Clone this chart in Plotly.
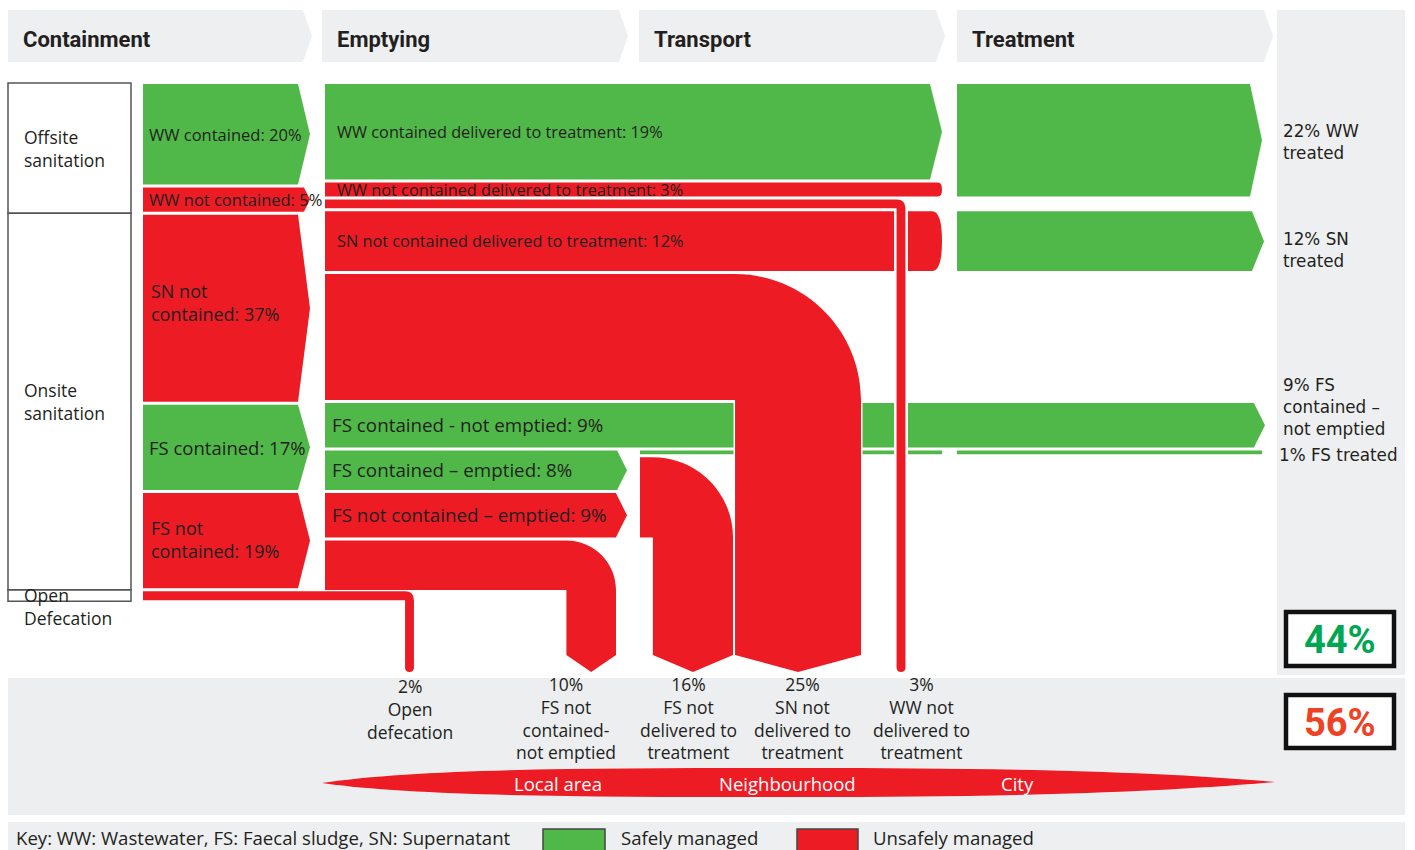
import plotly.graph_objects as go

# ---------------- data ----------------
stages = ["Containment", "Emptying", "Transport", "Treatment"]
system_labels = ["Offsite<br>sanitation", "Onsite<br>sanitation", "Open<br>Defecation"]

containment_labels = ["WW contained: 20%", "WW not contained: 5%", "SN not<br>contained: 37%",
                      "FS contained: 17%", "FS not<br>contained: 19%", ""]
containment_values = [20, 5, 37, 17, 19, 2]
containment_safe = [True, False, False, True, False, False]

emptying_labels = ["WW contained delivered to treatment", "WW not contained delivered to treatment",
                   "WW not delivered to treatment", "SN not contained delivered to treatment",
                   "SN not delivered to treatment", "FS contained - not emptied",
                   "FS contained \u2013 emptied", "FS not contained \u2013 emptied",
                   "FS not contained- not emptied", "Open defecation"]
emptying_values = [19, 3, 2, 12, 25, 9, 8, 9, 10, 2]

treated_values = [22, 12, 9, 1]          # WW treated, SN treated, FS contained-not emptied, FS treated
treated_text = ["{}% WW<br>treated", "{}% SN<br>treated",
                "{}% FS<br>contained \u2013<br>not emptied", "{}% FS treated"]

unsafe_values = [2, 10, 16, 25, 3]
unsafe_text = ["Open<br>defecation", "FS not<br>contained-<br>not emptied",
               "FS not<br>delivered to<br>treatment", "SN not<br>delivered to<br>treatment",
               "WW not<br>delivered to<br>treatment"]

scale_labels = ["Local area", "Neighbourhood", "City"]
key_text = "Key: WW: Wastewater, FS: Faecal sludge, SN: Supernatant"
legend_labels = ["Safely managed", "Unsafely managed"]

safe_total = sum(treated_values)
unsafe_total = sum(unsafe_values)
fs_emptied_treated = treated_values[3]

# ---------------- layout constants ----------------
W, H = 1415, 850
Y0, S, GAP, TRIM = 84, 5.09, 1.7, 1.3
GREEN, RED = "#50b848", "#ed1c24"
TXT = "#231f20"
LIGHT = "#eeeff1"
FONT = "Open Sans"

X_C0, X_CTIP = 143, 310
X_E0, X_ETIP = 325, 942
X_T0, X_TTIP = 957, 1264
X_FSTIP, X_RECV = 627, 640
COL_SN, COL_FSND, COL_FSNE = 861, 733, 616
PIPE_OD, PIPE_WW = 409.5, 901
BOT_SIDE, BOT_TIP = 655, 672
K = 0.5523


def stack(values):
    tops, bots, cum = [], [], 0
    for k, v in enumerate(values):
        t = Y0 + S * cum + GAP * k
        tops.append(t)
        bots.append(t + S * v - TRIM)
        cum += v
    return tops, bots


ct, cb = stack(containment_values)
et, eb = stack(emptying_values)

shapes = []
annotations = []


def add_path(d, fill, lw=0, lc=None):
    shapes.append(dict(type="path", path=d, xref="x", yref="y", fillcolor=fill,
                       line=dict(width=lw, color=lc or fill), layer="above"))


def add_rect(x0, y0, x1, y1, fill, lw=0, lc=None):
    shapes.append(dict(type="rect", x0=x0, y0=y0, x1=x1, y1=y1, xref="x", yref="y",
                       fillcolor=fill, line=dict(width=lw, color=lc or fill), layer="above"))


def chevron(x0, tip, t, b, ind=None, rounded=False):
    h = b - t
    ind = min(12, h * 0.25) if ind is None else ind
    m = (t + b) / 2
    if rounded:
        return (f"M{x0:.2f},{t:.2f} L{tip-ind:.2f},{t:.2f} Q{tip:.2f},{t:.2f} {tip:.2f},{m:.2f} "
                f"Q{tip:.2f},{b:.2f} {tip-ind:.2f},{b:.2f} L{x0:.2f},{b:.2f} Z")
    return (f"M{x0:.2f},{t:.2f} L{tip-ind:.2f},{t:.2f} L{tip:.2f},{m:.2f} "
            f"L{tip-ind:.2f},{b:.2f} L{x0:.2f},{b:.2f} Z")


def bend(x0, t, b, cr, w):
    cl = cr - w
    r = w
    return (f"M{x0:.2f},{t:.2f} L{cl:.2f},{t:.2f} C{cl+K*r:.2f},{t:.2f} {cr:.2f},{t+r-K*r:.2f} {cr:.2f},{t+r:.2f} "
            f"L{cr:.2f},{BOT_SIDE} L{(cl+cr)/2:.2f},{BOT_TIP} L{cl:.2f},{BOT_SIDE} "
            f"L{cl:.2f},{b:.2f} L{x0:.2f},{b:.2f} Z")


def pipe(x0, t, b, cx, end):
    w = b - t
    cl, cr = cx - w / 2, cx + w / 2
    return (f"M{x0:.2f},{t:.2f} L{cl:.2f},{t:.2f} Q{cr:.2f},{t:.2f} {cr:.2f},{t+w:.2f} "
            f"L{cr:.2f},{end-w/2:.2f} Q{cr:.2f},{end:.2f} {cx:.2f},{end:.2f} "
            f"Q{cl:.2f},{end:.2f} {cl:.2f},{end-w/2:.2f} L{cl:.2f},{b:.2f} L{x0:.2f},{b:.2f} Z")


def txt(x, y, s, size=15, color=TXT, family=FONT, anchor="left", bold=False, align=None):
    annotations.append(dict(x=x, y=y, xref="x", yref="y", text=s, showarrow=False,
                            xanchor=anchor, yanchor="middle", align=align or anchor,
                            font=dict(size=size, color=color, family=family,
                                      weight="bold" if bold else "normal")))


def width(v):
    return S * v - TRIM


# ---------------- backgrounds ----------------
add_rect(1277, 10, 1405, 675, LIGHT)
add_rect(8, 678, 1405, 815, "#eceef0")
add_rect(8, 822, 1405, 852, LIGHT)
strip_x = [(8, 312), (322, 628), (639, 945), (957, 1273)]
for (a, b_), name in zip(strip_x, stages):
    add_path(chevron(a, b_, 10, 62, ind=9), LIGHT)
    txt(a + 13, 39, name, size=22, family="Roboto", bold=True)

# ---------------- system boxes ----------------
box_edges = [ct[0] - 1, (cb[1] + ct[2]) / 2, (cb[4] + ct[5]) / 2, cb[5] + 1]
for i, lab in enumerate(system_labels):
    y0, y1 = box_edges[i], box_edges[i + 1]
    add_rect(8, y0, 131, y1, "rgba(0,0,0,0)", lw=1.5, lc="#555555")
    mid = (y0 + y1) / 2 if i < 2 else y0 + 17
    txt(22, mid, lab, size=17.5)

# ---------------- containment ----------------
for i, (v, safe, lab) in enumerate(zip(containment_values, containment_safe, containment_labels)):
    if i == 5:
        continue
    add_path(chevron(X_C0, X_CTIP, ct[i], cb[i]), GREEN if safe else RED)
    m = (ct[i] + cb[i]) / 2
    if i in (0, 1):
        txt(147, m, lab, size=16.5)
    elif i == 3:
        txt(147, m, lab, size=18.5)
    else:
        txt(149, m - (6 if i == 2 else 1), lab, size=18)

# ---------------- treatment bands ----------------
add_path(chevron(X_T0, X_TTIP - 2, et[0], eb[1]), GREEN)
add_path(chevron(X_T0, X_TTIP, et[3], eb[3]), GREEN)

# ---------------- emptying / transport straight bands ----------------
add_path(chevron(X_E0, X_ETIP, et[0], eb[0]), GREEN)
add_path(chevron(X_E0, X_ETIP, et[1], eb[1], ind=4, rounded=True), RED)
add_path(chevron(X_E0, X_ETIP, et[3], eb[3], ind=10, rounded=True), RED)
add_path(chevron(X_E0, X_TTIP + 1, et[5], eb[5]), GREEN)
fs_t_top = et[6]
fs_t_bot = et[6] + width(fs_emptied_treated)
add_rect(X_RECV, fs_t_top, X_ETIP, fs_t_bot, GREEN)
add_rect(X_T0, fs_t_top, X_TTIP - 2, fs_t_bot, GREEN)
add_path(chevron(X_E0, X_FSTIP, et[6], eb[6]), GREEN)
add_path(chevron(X_E0, X_FSTIP, et[7], eb[7]), RED)

# ---------------- bends into "not delivered" columns ----------------
recv_top = fs_t_top + S * fs_emptied_treated + GAP
recv_bot = eb[7]
bends = [
    (X_E0, et[4], eb[4], COL_SN, width(unsafe_values[3])),
    (X_RECV, recv_top, recv_bot, COL_FSND, width(unsafe_values[2])),
    (X_E0, et[8], eb[8], COL_FSNE, width(unsafe_values[1])),
]
for x0, t, b, cr, w in bends:
    d = bend(x0, t, b, cr, w)
    add_path(d, "white", lw=3, lc="white")
    add_path(d, RED)

# open defecation pipe
add_path(pipe(X_C0, ct[5], cb[5], PIPE_OD, BOT_TIP), RED)
# wastewater not delivered pipe
d = pipe(X_E0, et[2], eb[2], PIPE_WW, BOT_TIP)
add_path(d, "white", lw=5, lc="white")
add_path(d, RED)

# ---------------- emptying labels ----------------
for i in [0, 1, 3]:
    txt(335, (et[i] + eb[i]) / 2 + (1 if i == 1 else 0),
        f"{emptying_labels[i]}: {emptying_values[i]}%", size=16.3)
for i in [5, 6, 7]:
    txt(330, (et[i] + eb[i]) / 2, f"{emptying_labels[i]}: {emptying_values[i]}%", size=18.8)

# ---------------- right-hand labels ----------------
right_y = [142, 249.5, 407, 455]
for v, s, y in zip(treated_values, treated_text, right_y):
    txt(1281 if "<br>" in s else 1277, y, s.format(v), size=16.8, family="DejaVu Sans")

# ---------------- bottom labels ----------------
unsafe_x = [410, 566, 688, 802, 921]
for x, v, s in zip(unsafe_x, unsafe_values, unsafe_text):
    lines = s.count("<br>") + 2
    yc = 690 + 18.5 * (lines - 1) / 2
    txt(x, yc, f"{v}%<br>{s}", size=17.5, anchor="center")

# ---------------- totals ----------------
for y0, y1, val, col in [(612, 666, safe_total, "#00a651"), (695, 748, unsafe_total, "#ef4123")]:
    add_rect(1286, y0, 1394, y1, "white", lw=4.5, lc="#111111")
    txt(1340, (y0 + y1) / 2 + 1, f"{val}%", size=38, color=col, family="Roboto", anchor="center", bold=True)

# ---------------- scale lens ----------------
lens = ("M322,783 C420,768 600,768 800,768 C1000,768 1150,771 1275,782 "
        "C1150,793 1000,797 800,797 C600,797 420,797 322,783 Z")
add_path(lens, RED)
for x, s in zip([558, 787, 1017], scale_labels):
    txt(x, 783, s, size=18.5, color="white", anchor="center")

# ---------------- key ----------------
txt(14, 837, key_text, size=18.6)
add_rect(543, 829, 605, 856, GREEN, lw=1.5, lc="#444444")
txt(619, 837, legend_labels[0], size=18.6)
add_rect(797, 829, 858, 856, RED, lw=1.5, lc="#444444")
txt(871, 837, legend_labels[1], size=18.6)

fig = go.Figure()
fig.add_trace(go.Scatter(x=[0, W], y=[0, H], mode="markers", marker=dict(opacity=0),
                         hoverinfo="skip", showlegend=False))
fig.update_layout(
    width=W, height=H, margin=dict(l=0, r=0, t=0, b=0),
    paper_bgcolor="white", plot_bgcolor="white",
    xaxis=dict(range=[0, W], visible=False, fixedrange=True),
    yaxis=dict(range=[H, 0], visible=False, fixedrange=True),
    shapes=shapes, annotations=annotations, showlegend=False,
)
fig.write_html("out.html", config={"displayModeBar": False},
               post_script="document.body.style.margin='0';document.body.style.overflow='hidden';")
